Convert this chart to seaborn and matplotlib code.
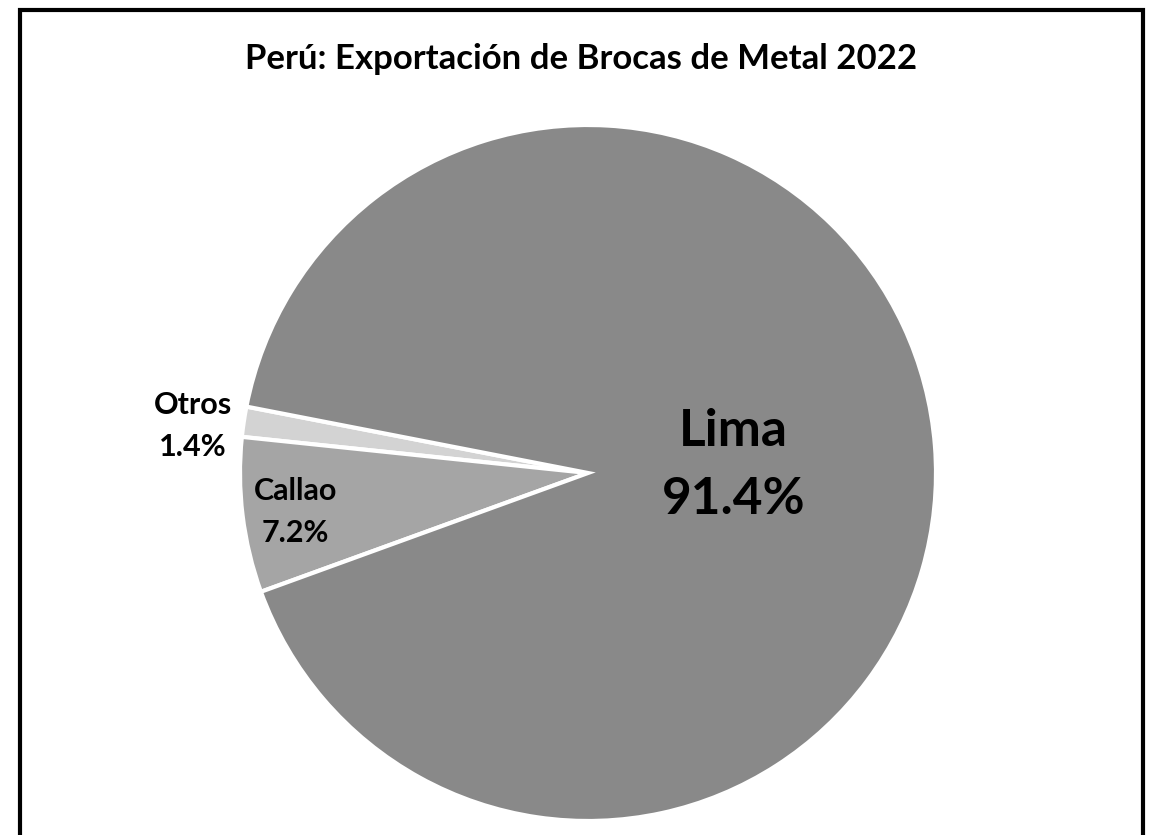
import numpy as np
import matplotlib
matplotlib.use("Agg")
import matplotlib.pyplot as plt
import seaborn as sns
from matplotlib.patches import Rectangle

# Data
regiones = ["Otros", "Callao", "Lima"]
participacion = [1.4, 7.2, 91.4]
colores = ["#d3d3d3", "#a5a5a5", "#898989"]
titulo = "Perú: Exportación de Brocas de Metal 2022"

# Label styles (radial distance, font size, line spacing, nudge in points)
lab_dist = {"Otros": 1.14, "Callao": 0.846, "Lima": 0.42}
lab_size = {"Otros": 22, "Callao": 22, "Lima": 37}
lab_space = {"Otros": 1.6, "Callao": 1.6, "Lima": 1.56}
lab_nudge = {"Otros": (-2, -8), "Callao": (0, -2), "Lima": (0, -3)}

sns.set_theme(style="white")
plt.rcParams["font.family"] = ["Lato", "DejaVu Sans"]

fig = plt.figure(figsize=(11.5, 8.35), dpi=100)
ax = fig.add_axes([240 / 1150, 14 / 835, 696 / 1150, 696 / 835])

wedges, _ = ax.pie(participacion, colors=colores, startangle=169, counterclock=True,
                   radius=1, wedgeprops=dict(edgecolor="white", linewidth=3))
ax.set_xlim(-1, 1)
ax.set_ylim(-1, 1)
ax.set_aspect("auto")
ax.axis("off")

for w, reg, val in zip(wedges, regiones, participacion):
    ang = np.deg2rad((w.theta1 + w.theta2) / 2)
    d = lab_dist[reg]
    ax.annotate(f"{reg}\n{val:.1f}%", xy=(d * np.cos(ang), d * np.sin(ang)),
                xytext=lab_nudge[reg], textcoords="offset points",
                ha="center", va="center", multialignment="center",
                fontsize=lab_size[reg], fontweight="bold", color="black",
                linespacing=lab_space[reg], annotation_clip=False)

fig.text(581 / 1150, 1 - 59 / 835, titulo, ha="center", va="center",
         fontsize=25, fontweight="bold", color="black")

# outer border of the chart area
fig.patches.append(Rectangle((20 / 1150, -20 / 835), 1122.5 / 1150, 845 / 835,
                             transform=fig.transFigure, fill=False,
                             edgecolor="black", linewidth=3, clip_on=False))

fig.savefig("out.png", dpi=100)
